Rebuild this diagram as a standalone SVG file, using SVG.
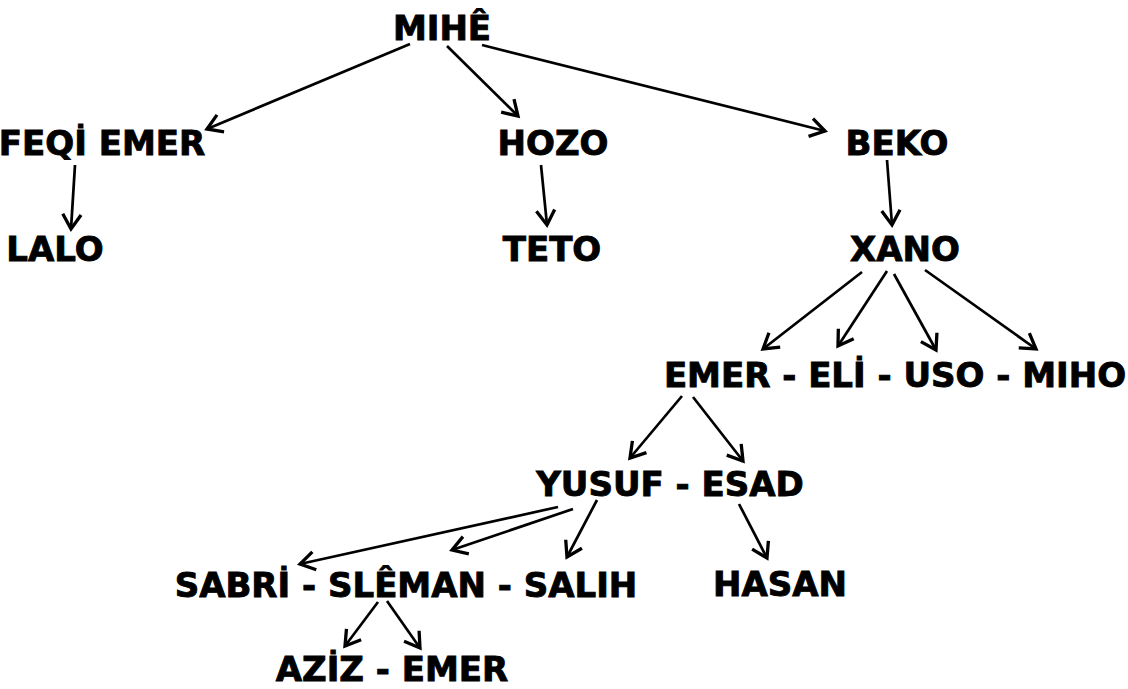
<svg xmlns="http://www.w3.org/2000/svg" width="1128" height="689" viewBox="0 0 1128 689">
<style>
text{font-family:"DejaVu Sans","Verdana",sans-serif;font-weight:bold;font-size:34px;fill:#000;stroke:#000;stroke-width:0.9;text-anchor:middle}
.c line{stroke:#000;stroke-width:2.7;marker-end:url(#a)}
</style>
<defs>
<marker id="a" markerUnits="userSpaceOnUse" markerWidth="22" markerHeight="22" viewBox="-14 -9 16 18" refX="0" refY="0" orient="auto">
<path d="M-12,-7.5 L0,0 L-12,7.5" fill="none" stroke="#000" stroke-width="2.7"/>
</marker>
</defs>
<rect width="1128" height="689" fill="#fff"/>
<g id="n-mihe"><text x="442" y="40">MIHÊ</text></g>
<g id="n-feqi"><text x="102" y="155">FEQİ EMER</text></g>
<g id="n-hozo"><text x="553" y="155">HOZO</text></g>
<g id="n-beko"><text x="897" y="155">BEKO</text></g>
<g id="n-lalo"><text x="55" y="261">LALO</text></g>
<g id="n-teto"><text x="552" y="261">TETO</text></g>
<g id="n-xano"><text x="905" y="261">XANO</text></g>
<g id="n-emer1"><text x="895" y="387">EMER - ELİ - USO - MIHO</text></g>
<g id="n-yusuf"><text x="670" y="496">YUSUF - ESAD</text></g>
<g id="n-sabri"><text x="406" y="597">SABRİ - SLÊMAN - SALIH</text></g>
<g id="n-hasan"><text x="780" y="596">HASAN</text></g>
<g id="n-aziz"><text x="392" y="681">AZİZ - EMER</text></g>
<g id="connectors" class="c">
<line x1="410" y1="44" x2="207" y2="129"/>
<line x1="447" y1="46" x2="518" y2="116"/>
<line x1="482" y1="45" x2="825" y2="131"/>
<line x1="75" y1="165" x2="71" y2="229"/>
<line x1="541" y1="165" x2="547" y2="225"/>
<line x1="887" y1="160" x2="892" y2="225"/>
<line x1="862" y1="272" x2="763" y2="349"/>
<line x1="887" y1="271" x2="838" y2="346"/>
<line x1="894" y1="274" x2="936" y2="350"/>
<line x1="925" y1="270" x2="1036" y2="349"/>
<line x1="682" y1="396" x2="630" y2="458"/>
<line x1="693" y1="397" x2="743" y2="461"/>
<line x1="558" y1="507" x2="300" y2="564"/>
<line x1="573" y1="509" x2="452" y2="550"/>
<line x1="597" y1="500" x2="567" y2="557"/>
<line x1="739" y1="504" x2="767" y2="558"/>
<line x1="378" y1="602" x2="345" y2="646"/>
<line x1="387" y1="601" x2="420" y2="648"/>
</g>
</svg>
